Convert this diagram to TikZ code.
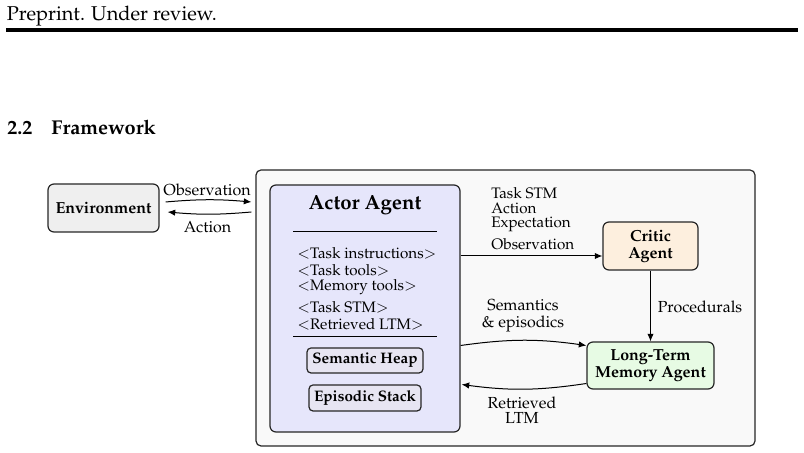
\documentclass[tikz,border=0pt]{standalone}
\usepackage[T1]{fontenc}
\usepackage{mathpazo}
\usetikzlibrary{arrows.meta,calc}
\definecolor{envfill}{RGB}{239,239,239}
\definecolor{outerfill}{RGB}{249,249,249}
\definecolor{actorfill}{RGB}{230,230,251}
\definecolor{heapfill}{RGB}{231,229,242}
\definecolor{criticfill}{RGB}{253,239,222}
\definecolor{ltmfill}{RGB}{231,251,228}
\tikzset{
  box/.style={draw=black!85, line width=0.6pt, rounded corners=3pt, align=center, inner sep=0pt},
  arr/.style={-{Latex[length=3.8pt,width=3.2pt]}, line width=0.5pt},
  rule/.style={line width=0.45pt},
  lbl/.style={font=\fontsize{8}{8.5}\selectfont, inner sep=0pt, align=center},
  item/.style={font=\fontsize{7.6}{8.5}\selectfont, inner sep=0pt, anchor=west},
  bfs/.style={font=\bfseries\fontsize{8}{9}\selectfont},
}
\begin{document}
\begin{tikzpicture}[x=0.5pt,y=-0.5pt]
\useasboundingbox (0,0) rectangle (804,453);
% header
\node[anchor=base west, inner sep=0pt, font=\fontsize{10}{12}\selectfont] (hdr) at (6.5,20.7) {Preprint. Under review.};
\draw[line width=1.6pt] (6,30) -- (798,30);
\node[anchor=base west, inner sep=0pt, font=\bfseries\fontsize{10}{12}\selectfont] (secnum) at (7,135) {2.2};
\node[anchor=base west, inner sep=0pt, font=\bfseries\fontsize{10}{12}\selectfont] (sectitle) at (51,135) {Framework};
% outer box
\node[box, fill=outerfill, rounded corners=2.5pt, minimum width=249.5pt, minimum height=138pt] (outer) at (505.5,308) {};
% environment
\node[box, fill=envfill, bfs, minimum width=55.5pt, minimum height=24pt] (env) at (103.5,208) {Environment};
\coordinate (oin) at (outer.west |- env.east);
\draw[arr] ($(env.east)+(3pt,3pt)$) to[bend left=5] ($(oin)+(-2pt,3pt)$);
\draw[arr] ($(oin)+(-2pt,-2pt)$) to[bend left=5] ($(env.east)+(4pt,-2pt)$);
\node[lbl] (obslbl) at (207,190) {Observation};
\node[lbl] (actlbl) at (207.5,227) {Action};
% actor
\node[box, fill=actorfill, minimum width=95pt, minimum height=123.5pt] (actor) at (365,308.5) {};
\node[inner sep=0pt, font=\bfseries\fontsize{10.2}{12}\selectfont] (actortitle) at (365,205) {Actor Agent};
\draw[rule] (293,231) -- (437,231);
\node[item] (li1) at (297,253) {$<$Task instructions$>$};
\node[item] (li2) at (297,270) {$<$Task tools$>$};
\node[item] (li3) at (297,287) {$<$Memory tools$>$};
\node[item] (li4) at (297,307) {$<$Task STM$>$};
\node[item] (li5) at (297,324) {$<$Retrieved LTM$>$};
\draw[rule] (293,336) -- (437,336);
\node[box, fill=heapfill, rounded corners=2pt, font=\bfseries\fontsize{7.6}{9}\selectfont, minimum width=58pt, minimum height=12.5pt] (heap) at (365,360.5) {Semantic Heap};
\node[box, fill=heapfill, rounded corners=2pt, font=\bfseries\fontsize{7.6}{9}\selectfont, minimum width=56pt, minimum height=13pt] (stack) at (365,398) {Episodic Stack};
% critic
\node[box, fill=criticfill, font=\bfseries\fontsize{8}{8.5}\selectfont, minimum width=47.5pt, minimum height=24pt] (critic) at (650.5,246) {Critic\\Agent};
\node[item] (c1) at (491,193) {Task STM};
\node[item] (c2) at (491,208) {Action};
\node[item] (c3) at (491,224) {Expectation};
\node[item] (c4) at (491,244) {Observation};
\coordinate (cin) at ($(critic.west)+(0,-5pt)$);
\draw[arr] (actor.east |- cin) -- (cin);
% long-term memory
\node[box, fill=ltmfill, font=\bfseries\fontsize{8}{8.5}\selectfont, minimum width=63.5pt, minimum height=23.5pt] (ltm) at (650.5,365.5) {Long-Term\\Memory Agent};
\draw[arr] (critic.south) -- (ltm.north);
\node[lbl] (proc) at (700,307) {Procedurals};
\coordinate (lin) at ($(ltm.west)+(0,10pt)$);
\coordinate (lout) at ($(ltm.west)+(0,-9pt)$);
\draw[arr] (actor.east |- lin) to[bend left=8] (lin);
\draw[arr] (lout) to[bend left=8] ($(actor.east |- lout)+(0.5pt,-0.5pt)$);
\node[lbl] (sem) at (523,315.5) {Semantics\\\& episodics};
\node[lbl, font=\fontsize{8}{7.5}\selectfont] (ret) at (522,410.5) {Retrieved\\LTM};
\end{tikzpicture}
\end{document}
